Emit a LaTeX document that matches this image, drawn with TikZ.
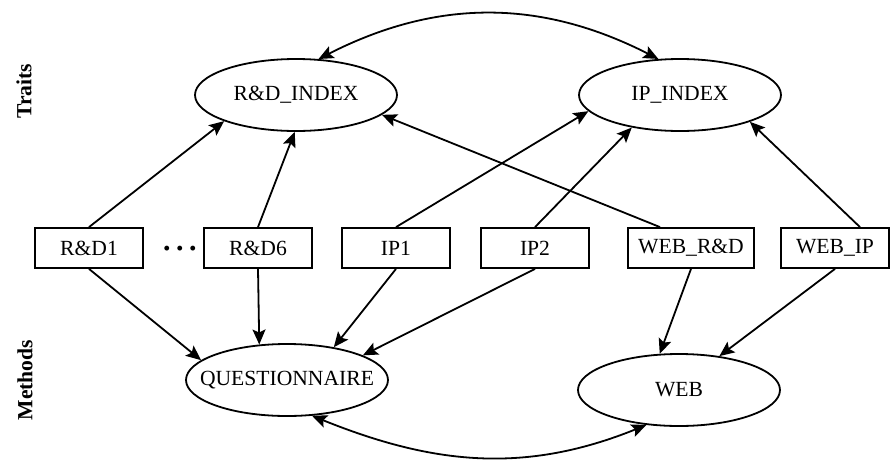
\documentclass[tikz,border=0pt]{standalone}
\usepackage{fontspec}
\setmainfont{Liberation Serif}
\usetikzlibrary{arrows.meta}
\usetikzlibrary{shapes.geometric}

\begin{document}
\begin{tikzpicture}[x=0.5pt, y=-0.5pt, line width=0.9pt, font=\fontsize{10.8}{13}\selectfont,
    latent/.style={ellipse, draw, inner sep=0pt, minimum width=101pt, minimum height=36pt},
    manifest/.style={rectangle, draw, inner xsep=5pt, minimum width=54pt, minimum height=20pt},
    >={Stealth[length=7.5pt, width=6.5pt, inset=1.5pt]}]
      \useasboundingbox (0,0) rectangle (890,467);

      \node[rotate=90] (traits) at (24,91) {\bfseries Traits};
      \node[rotate=90] (methods) at (25,380) {\bfseries Methods};

      \node[latent] (rdindex) at (296,95) {\makebox[0pt]{R\&D\_INDEX}};
      \node[latent] (ipindex) at (680,95) {\makebox[0pt]{IP\_INDEX}};
      \node[latent] (quest) at (287,380) {\makebox[0pt]{QUESTIONNAIRE}};
      \node[latent] (web) at (679,390) {\makebox[0pt]{WEB}};

      \node[manifest] (rd1) at (89,248) {R\&D1};
      \node[anchor=base, font=\fontsize{15}{15}\selectfont\bfseries] (dots) at (180,258)
        {\textperiodcentered\kern1.5pt\textperiodcentered\kern1.5pt\textperiodcentered};
      \node[manifest] (rd6) at (258,248) {R\&D6};
      \node[manifest] (ip1) at (396,248) {IP1};
      \node[manifest] (ip2) at (535,248) {IP2};
      \node[manifest] (webrd) at (691,248) {WEB\_R\&D};
      \node[manifest] (webip) at (835,248) {WEB\_IP};

      \draw[->] (rd1.north) -- (rdindex.200);
      \draw[->] (rd6.north) -- (rdindex.268);
      \draw[->] ([xshift=-15.5pt]webrd.north) -- (rdindex.347);
      \draw[->] (ip1.north) -- (ipindex.190);
      \draw[->] (ip2.north) -- (ipindex.214);
      \draw[->] ([xshift=12.5pt]webip.north) -- (ipindex.339);

      \draw[->] (rd1.south) -- (quest.167);
      \draw[->] (rd6.south) -- (quest.128);
      \draw[->] (ip1.south) -- (quest.35);
      \draw[->] (ip2.south) -- (quest.18);
      \draw[->] (webrd.south) -- (web.118);
      \draw[->] (webip.south) -- (web.40);

      \draw[<->] (rdindex.58) to[out=27, in=153] (ipindex.121);
      \draw[<->] (quest.305) to[out=-22, in=-158] (web.227);
\end{tikzpicture}
\end{document}
